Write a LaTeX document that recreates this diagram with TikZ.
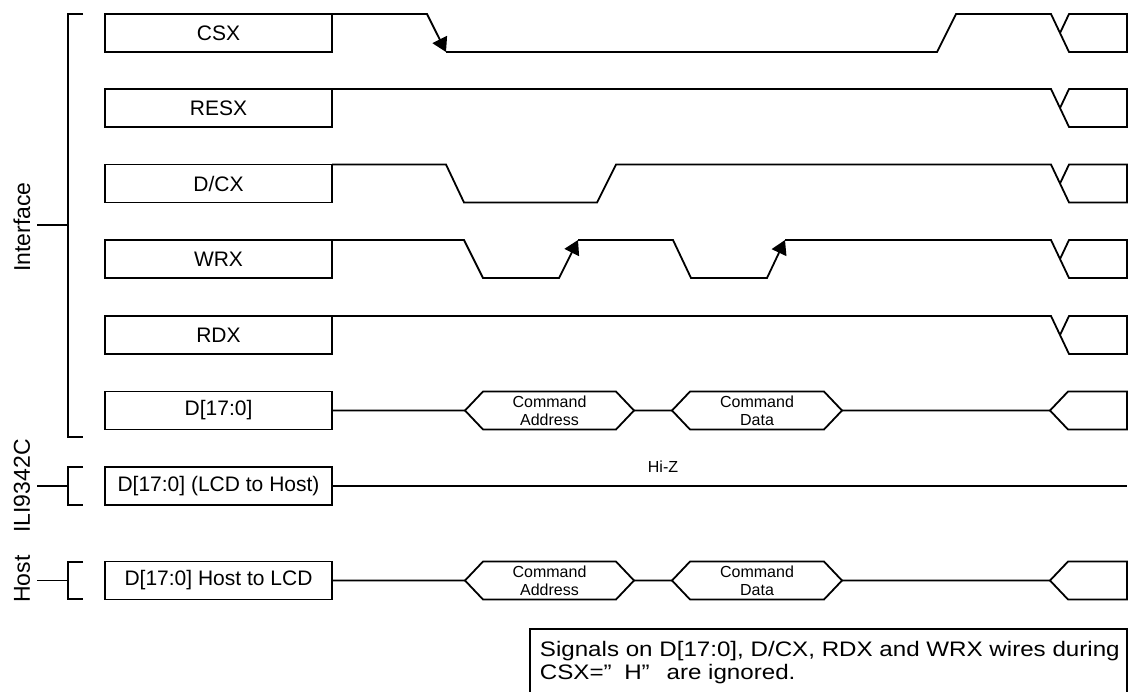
\documentclass[tikz,border=0pt]{standalone}
\usepackage{fontspec}
\setmainfont{Liberation Sans}
\newfontfamily\notefont[FakeStretch=1.15]{Liberation Sans}
\usetikzlibrary{arrows.meta, shapes.symbols}
\tikzset{every picture/.style={font issue=\fontsize{21}{25}},
         font issue/.style={execute at begin picture={#1\selectfont}}
        }

\begin{document}
\begin{tikzpicture}[x=1pt, y=-1pt, line width=1.8pt,
  sig/.style={draw, minimum width=227pt, minimum height=38pt, inner sep=0pt, outer sep=0pt},
  bus/.style={draw, signal, signal to=east and west, signal pointer angle=93, minimum height=38pt, inner sep=0pt, outer sep=0pt, align=center, font=\fontsize{16}{18}\selectfont},
  busend/.style={draw, signal, signal to=west, signal pointer angle=93, minimum width=77pt, minimum height=38pt, inner sep=0pt, outer sep=0pt, anchor=east},
  clk/.style={-{Triangle[length=14pt,width=16pt]}},
  side/.style={rotate=90, font=\fontsize{23}{25}\selectfont}]
\useasboundingbox (0,0) rectangle (1139,691);
\node[sig] (csx) at (218.5,33) {CSX};
\node[sig] (resx) at (218.5,108) {RESX};
\node[sig] (dcx) at (218.5,183.5) {D/CX};
\node[sig] (wrx) at (218.5,259) {WRX};
\node[sig] (rdx) at (218.5,335) {RDX};
\node[sig] (dbus) at (218.5,410.5) {D[17:0]};
\node[sig] (dread) at (218.5,486) {D[17:0] (LCD to Host)};
\node[sig] (dhost) at (218.5,580.5) {D[17:0] Host to LCD};
\draw[clk] (csx.north east) -- (427,14) -- (446,52);
\draw (446,52) -- (937,52) -- (956,14) -- (1051,14) -- (1069,52) -- (1127,52) -- (1127,14) -- (1069,14) -- (1060,33);
\draw (resx.north east) -- (1051,89) -- (1069,127) -- (1127,127) -- (1127,89) -- (1069,89) -- (1060,108);
\draw (dcx.north east) -- (446,164.5) -- (464,202.5) -- (597,202.5) -- (616,164.5) -- (1051,164.5) -- (1069,202.5) -- (1127,202.5) -- (1127,164.5) -- (1069,164.5) -- (1060,183.5);
\draw[clk] (wrx.north east) -- (464,240) -- (483,278) -- (559,278) -- (578,240);
\draw[clk] (578,240) -- (673,240) -- (691,278) -- (767,278) -- (785,240);
\draw (785,240) -- (1051,240) -- (1069,278) -- (1127,278) -- (1127,240) -- (1069,240) -- (1060,259);
\draw (rdx.north east) -- (1051,316) -- (1069,354) -- (1127,354) -- (1127,316) -- (1069,316) -- (1060,335);
\node[bus, minimum width=169pt] (cmda) at (549.5,410.5) {Command\\Address};
\node[bus, minimum width=170pt] (cmdd) at (757,410.5) {Command\\Data};
\node[busend] (dend) at (1127,410.5) {};
\draw (dbus) -- (cmda) -- (cmdd) -- (dend);
\node[font=\fontsize{16}{18}\selectfont] (hiz) at (663,467) {Hi-Z};
\coordinate (zend) at (1127,486);
\draw (dread) -- (zend);
\node[bus, minimum width=169pt] (hcmda) at (549.5,580.5) {Command\\Address};
\node[bus, minimum width=170pt] (hcmdd) at (757,580.5) {Command\\Data};
\node[busend] (hend) at (1127,580.5) {};
\draw (dhost) -- (hcmda) -- (hcmdd) -- (hend);
\draw (83,14) -- (68,14) -- (68,437) -- (83,437);
\draw (37,225) -- (68,225);
\node[side] (iface) at (22,227) {Interface};
\draw (83,467) -- (68,467) -- (68,505) -- (83,505);
\draw (37,486) -- (68,486);
\node[side] (ili) at (22,486) {ILI9342C};
\draw (83,562) -- (68,562) -- (68,599) -- (83,599);
\draw (37,580.5) -- (68,580.5);
\node[side] (host) at (22,579) {Host};
\draw (530,629) rectangle (1127,700);
\node[anchor=north west, align=left, inner sep=0pt, font=\notefont\fontsize{21}{23}\selectfont] (note) at (539,640) {Signals on D[17:0], D/CX, RDX and WRX wires during\\CSX=”\hspace{0.6em}H”\hspace{0.8em}are ignored.};
\end{tikzpicture}
\end{document}
